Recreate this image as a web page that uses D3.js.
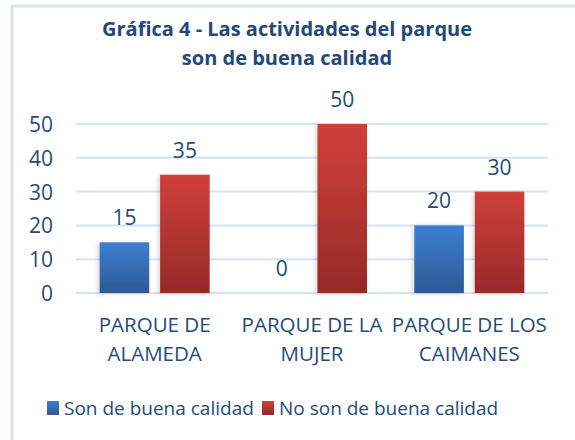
<!DOCTYPE html>
<html>
<head>
<meta charset="utf-8">
<script src="https://cdn.jsdelivr.net/npm/d3@7"></script>
<style>
  body { margin: 0; background: #fff; }
  svg text { font-family: 'Open Sans', sans-serif; fill: #264a7c; }
</style>
</head>
<body>
<div id="chart"></div>
<script>
// data
const categories = [['PARQUE DE', 'ALAMEDA'], ['PARQUE DE LA', 'MUJER'], ['PARQUE DE LOS', 'CAIMANES']];
const seriesNames = ['Son de buena calidad', 'No son de buena calidad'];
const buenaValues = [15, 0, 20];
const noBuenaValues = [35, 50, 30];
const yTicks = [0, 10, 20, 30, 40, 50];
const titleLines = ['Gráfica 4 - Las actividades del parque', 'son de buena calidad'];

const width = 575, height = 440;
const margin = { top: 124, right: 27, bottom: 147, left: 76 };

const svg = d3.select('#chart').append('svg')
  .attr('width', width).attr('height', height);

const defs = svg.append('defs');
const gradBlue = defs.append('linearGradient').attr('id', 'gBlue')
  .attr('x1', 0).attr('y1', 0).attr('x2', 0).attr('y2', 1);
gradBlue.append('stop').attr('offset', '0%').attr('stop-color', '#3d7ed2');
gradBlue.append('stop').attr('offset', '100%').attr('stop-color', '#2c5a96');
const gradRed = defs.append('linearGradient').attr('id', 'gRed')
  .attr('x1', 0).attr('y1', 0).attr('x2', 0).attr('y2', 1);
gradRed.append('stop').attr('offset', '0%').attr('stop-color', '#d03f3b');
gradRed.append('stop').attr('offset', '100%').attr('stop-color', '#962a28');
const shadow = defs.append('filter').attr('id', 'shadow')
  .attr('x', '-20%').attr('y', '-10%').attr('width', '140%').attr('height', '120%');
shadow.append('feDropShadow').attr('dx', -2).attr('dy', 1).attr('stdDeviation', 2)
  .attr('flood-color', '#000').attr('flood-opacity', 0.15);

// outer border
svg.append('path')
  .attr('d', `M12,${height} V6 H${width}`)
  .attr('fill', 'none').attr('stroke', '#d6e2f3').attr('stroke-width', 3);

// title
svg.append('g').selectAll('text').data(titleLines).enter().append('text')
  .attr('x', 287).attr('y', (d, i) => 36 + i * 29)
  .attr('text-anchor', 'middle')
  .style('font-size', '20px').style('font-weight', 'bold').style('fill', '#23487a')
  .text(d => d);

const plotW = width - margin.left - margin.right;
const plotH = height - margin.top - margin.bottom;
const g = svg.append('g').attr('transform', `translate(${margin.left},${margin.top})`);

const x0 = d3.scaleBand().domain(d3.range(categories.length)).range([0, plotW]).padding(0);
const x1 = d3.scaleBand().domain([0, 1]).range([0, 110]).paddingInner(0.18);
const y = d3.scaleLinear().domain([0, 50]).range([plotH, 0]);

// grid
g.append('g').selectAll('line').data(yTicks).enter().append('line')
  .attr('x1', 0).attr('x2', plotW)
  .attr('y1', d => y(d)).attr('y2', d => y(d))
  .attr('stroke', '#d6e2f3').attr('stroke-width', 2);

// y axis labels
const yAxis = g.append('g').attr('transform', 'translate(-23,0)')
  .call(d3.axisLeft(y).tickValues(yTicks).tickSize(0).tickPadding(0));
yAxis.select('.domain').remove();
yAxis.selectAll('text').style('font-size', '21px').attr('dy', '0.36em')
  .style('font-family', "'Open Sans', sans-serif").attr('fill', '#264a7c');

// bars
const series = [buenaValues, noBuenaValues];
const fills = ['url(#gBlue)', 'url(#gRed)'];
const groups = g.append('g').selectAll('g').data(categories).enter().append('g')
  .attr('transform', (d, i) => `translate(${x0(i) + x0.bandwidth() / 2 - 55},0)`);

groups.each(function (d, i) {
  const grp = d3.select(this);
  series.forEach((vals, s) => {
    const v = vals[i];
    if (v > 0) {
      grp.append('rect')
        .attr('x', x1(s)).attr('width', x1.bandwidth())
        .attr('y', y(v)).attr('height', y(0) - y(v))
        .attr('fill', fills[s]).attr('filter', 'url(#shadow)');
    }
    grp.append('text')
      .attr('x', x1(s) + x1.bandwidth() / 2).attr('y', y(v) - 17)
      .attr('text-anchor', 'middle').style('font-size', '21px')
      .text(v);
  });
  // category label
  grp.append('g').selectAll('text').data(d).enter().append('text')
    .attr('x', 55).attr('y', (t, k) => plotH + 39 + k * 29)
    .attr('text-anchor', 'middle').style('font-size', '20.5px')
    .text(t => t);
});

// legend
const legend = svg.append('g').attr('transform', 'translate(47,401)');
const legX = [0, 215];
seriesNames.forEach((name, s) => {
  const lg = legend.append('g').attr('transform', `translate(${legX[s]},0)`);
  lg.append('rect').attr('width', 12).attr('height', 14).attr('fill', fills[s]);
  lg.append('text').attr('x', 17).attr('y', 14).style('font-size', '19px').text(name);
});
</script>
</body>
</html>
